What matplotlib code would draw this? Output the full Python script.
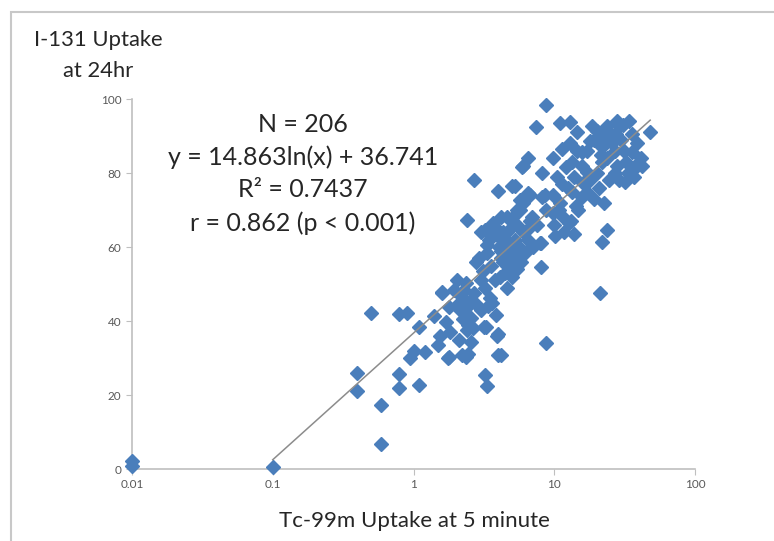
import matplotlib.pyplot as plt
import numpy as np
from matplotlib.patches import Rectangle

plt.rcParams['font.family'] = ['Lato', 'DejaVu Sans']

# Tc-99m uptake (x) and I-131 uptake (y)
x_low = [0.01, 0.01, 0.1, 0.4, 0.4, 0.5, 0.59, 0.59, 0.79, 0.9, 0.79, 0.79,
         1.09, 1.09, 0.95, 1.0, 1.2, 1.39, 1.5, 1.6, 1.8, 1.83, 1.7, 1.55]
y_low = [2.3, 0.9, 0.5, 25.9, 21.2, 42.2, 17.3, 6.8, 42, 42.3, 25.7, 22,
         22.6, 38.5, 30, 31.8, 31.5, 41.3, 33.6, 47.7, 30.2, 37.1, 39.7, 36]

x_mid1 = [1.75, 2.2, 2.45, 2.35, 2.1, 2.55, 3.15, 3.9, 4.0, 3.2, 3.3, 2.25,
          2.35, 2.55, 2.45, 2.65, 2.4, 2.15, 2.35, 1.8, 3.0, 3.5, 2.2, 2.1,
          2.05, 2.35, 3.0, 1.6, 3.25, 3.4, 3.6, 3.85, 4.0, 4.2, 2.5, 2.7,
          2.8, 1.95, 2.3, 3.2]
y_mid1 = [30, 30.7, 31.2, 30.4, 34.8, 34.2, 38.3, 36, 30.7, 25.5, 22.5, 40.5,
          42, 40.8, 39, 38.2, 37.5, 43, 43.5, 43.8, 43, 46.2, 46.5, 44.8,
          51, 50.3, 51, 47.8, 38.3, 44, 45, 41.5, 36.4, 30.8, 45.5, 47.5,
          44.5, 48.5, 48.5, 49]

x_mid2 = [2.8, 3.3, 3.0, 4.05, 4.2, 4.75, 5.0, 5.3, 4.55, 6.25, 4.6, 3.2,
          3.65, 4.2, 4.65, 2.4, 3.45, 3.8, 3.9, 4.3, 4.85, 5.4, 4.1, 4.45,
          5.0, 5.4, 5.2, 3.55, 3.1, 3.8, 4.2, 4.65, 5.6, 5.8, 5.1, 5.7,
          6.0, 6.7, 6.5, 2.9, 3.35, 4.0, 4.75, 4.3, 6.0, 7.0, 7.5, 7.1]
y_mid2 = [56, 58.4, 64.1, 60, 57, 54.6, 56, 62, 62, 58.7, 49, 64.7,
          66.6, 68.2, 68, 67.3, 62, 63.5, 65, 64, 65, 66, 52, 53,
          52, 54, 58, 55, 53.5, 51, 59, 60, 60, 56, 68, 70,
          72, 67, 62, 57, 60.5, 63, 58.5, 56, 64, 68, 66, 60]

x_mid3 = [7.9, 8.0, 8.1, 6.7, 11.8, 12.8, 9.8, 14.3, 15.7, 13.2, 11, 9.9,
          8.8, 8.2, 8.6, 6.7, 6.5, 5.7, 5.4, 5.3, 4.0, 2.7, 5.0, 5.9,
          6.0, 6.5, 8.2, 9.8, 11.4, 12.1, 13.4, 11.4, 9.8, 13.4, 13.9, 10.5,
          12.6, 10.8, 11.5, 14.8, 13.7, 10.1]
y_mid3 = [61, 54.7, 61, 65.5, 64, 66.6, 69.3, 71, 73.6, 67, 72, 66,
          70, 73.6, 74, 74, 74.7, 72.8, 70, 76.4, 75.2, 78, 76.6, 81.5,
          81.8, 84, 80, 84, 86.4, 81.5, 83, 77, 74, 75, 79, 79,
          76, 70, 68, 70, 63.5, 63]

x_high = [7.4, 8.7, 11.0, 13, 14.5, 15.7, 17.1, 17.9, 18.5, 20.2, 22, 23.5,
          24.6, 27.5, 29, 34, 31, 28, 22.4, 19, 21.3, 25.8, 30, 32.5,
          35.8, 38, 37, 29, 24.6, 22, 17.1, 16, 17.1, 20.2, 19, 23.5,
          27, 31.4, 35.8, 39, 41, 32, 37, 42, 48, 33.6, 28, 15.7,
          17.9, 20.7, 22.4, 14.5, 12.9, 26.9]
y_high = [92.3, 98.3, 93.5, 93.9, 91, 85.6, 86, 88.6, 92.7, 91.3, 87, 92.7,
          91, 90.5, 92.7, 94, 93, 94, 90, 89, 85, 88, 89, 83,
          85.6, 82.3, 81, 78, 78, 83, 80.4, 77.4, 75, 80, 73, 84,
          86, 86, 90.5, 88, 84, 77.6, 79, 82, 91.1, 80, 82, 82,
          78, 76, 72, 86, 88, 80]

x_out = [23.5, 22, 21, 8.7]
y_out = [64.7, 61.4, 47.7, 34]

x_all = x_low + x_mid1 + x_mid2 + x_mid3 + x_high + x_out
y_all = y_low + y_mid1 + y_mid2 + y_mid3 + y_high + y_out

# log trend line from the equation shown on the chart
fit_a = 14.863
fit_b = 36.741
fit_range = [0.1, 48]

fig = plt.figure(figsize=(7.74, 5.41), dpi=100)
ax = fig.add_axes([0.1705, 0.133, 0.7275, 0.684])

ax.plot(x_all, y_all, linestyle='none', marker='D', ms=7, color='#4A7EBB',
        mec='#4A7EBB', clip_on=False, zorder=3)

xt = np.logspace(np.log10(fit_range[0]), np.log10(fit_range[1]), 100)
ax.plot(xt, fit_a * np.log(xt) + fit_b, color='#8C8C8C', lw=1.1, zorder=4)

ax.set_xscale('log')
ax.set_xlim(0.01, 100)
ax.set_ylim(0, 100)
ax.set_xticks([0.01, 0.1, 1, 10, 100])
ax.set_xticklabels(['0.01', '0.1', '1', '10', '100'])
ax.set_yticks([0, 20, 40, 60, 80, 100])
ax.minorticks_off()
for s in ['top', 'right']:
    ax.spines[s].set_visible(False)
for s in ['left', 'bottom']:
    ax.spines[s].set_color('#BFBFBF')
    ax.spines[s].set_linewidth(1.2)
ax.tick_params(labelsize=8.5, labelcolor='#595959', color='#BFBFBF', length=4)

fig.text(0.391, 0.792,
         'N = 206\ny = 14.863ln(x) + 36.741\nR² = 0.7437\nr = 0.862 (p < 0.001)',
         ha='center', va='top', fontsize=18, color='#262626', linespacing=1.5)

fig.text(98 / 774, 1 - 40 / 541, 'I-131 Uptake', ha='center', va='center',
         fontsize=15.8, color='#262626')
fig.text(98 / 774, 1 - 71 / 541, 'at 24hr', ha='center', va='center',
         fontsize=15.8, color='#262626')
fig.text(414 / 774, 1 - 521 / 541, 'Tc-99m Uptake at 5 minute', ha='center',
         va='center', fontsize=16, color='#262626')

# outer frame
fig.patches.append(Rectangle((11 / 774, -0.1), 1.2, 1.1 - 12 / 541,
                             transform=fig.transFigure, fill=False,
                             ec='#C8C8C8', lw=1.5))

fig.savefig('out.png', dpi=100)
